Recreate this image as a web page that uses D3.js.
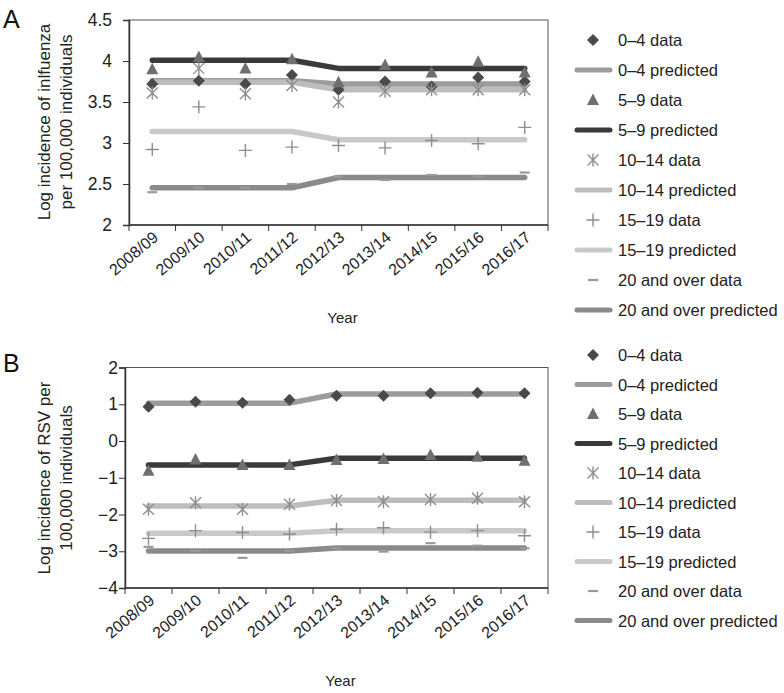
<!DOCTYPE html>
<html><head><meta charset="utf-8">
<script src="https://cdn.jsdelivr.net/npm/d3@7"></script>
<style>body{margin:0;background:#fff}svg{display:block;font-family:"Liberation Sans",Arial,sans-serif}</style>
</head><body><svg id="c" width="784" height="693"></svg>
<script>
const years = ["2008/09","2009/10","2010/11","2011/12","2012/13","2013/14","2014/15","2015/16","2016/17"];
const seriesNames = ["0–4","5–9","10–14","15–19","20 and over"];

// Panel A: influenza
const fluData04 = [3.72,3.76,3.72,3.83,3.65,3.75,3.69,3.80,3.75];
const fluData59 = [3.90,4.05,3.91,4.02,3.74,3.95,3.86,3.99,3.86];
const fluData1014 = [3.61,3.91,3.60,3.70,3.50,3.63,3.65,3.65,3.65];
const fluData1519 = [2.92,3.44,2.91,2.95,2.97,2.94,3.03,2.99,3.19];
const fluData20 = [2.40,2.455,2.455,2.50,2.59,2.55,2.61,2.59,2.64];
const fluPred04 = [3.76,3.76,3.76,3.76,3.72,3.72,3.72,3.72,3.72];
const fluPred59 = [4.01,4.01,4.01,4.01,3.91,3.91,3.91,3.91,3.91];
const fluPred1014 = [3.74,3.74,3.74,3.74,3.65,3.65,3.65,3.65,3.65];
const fluPred1519 = [3.14,3.14,3.14,3.14,3.04,3.04,3.04,3.04,3.04];
const fluPred20 = [2.455,2.455,2.455,2.455,2.58,2.58,2.58,2.58,2.58];
const fluTicks = [2,2.5,3,3.5,4,4.5];

// Panel B: RSV
const rsvData04 = [0.93,1.07,1.04,1.12,1.23,1.23,1.30,1.31,1.30];
const rsvData59 = [-0.81,-0.50,-0.65,-0.65,-0.52,-0.49,-0.38,-0.43,-0.54];
const rsvData1014 = [-1.86,-1.68,-1.86,-1.72,-1.62,-1.65,-1.59,-1.56,-1.65];
const rsvData1519 = [-2.65,-2.44,-2.49,-2.53,-2.40,-2.36,-2.48,-2.44,-2.58];
const rsvData20 = [-2.88,-2.99,-3.18,-2.99,-2.92,-3.01,-2.78,-2.85,-2.92];
const rsvPred04 = [1.03,1.03,1.03,1.03,1.28,1.28,1.28,1.28,1.28];
const rsvPred59 = [-0.65,-0.65,-0.65,-0.65,-0.47,-0.47,-0.47,-0.47,-0.47];
const rsvPred1014 = [-1.77,-1.77,-1.77,-1.77,-1.61,-1.61,-1.61,-1.61,-1.61];
const rsvPred1519 = [-2.51,-2.51,-2.51,-2.51,-2.44,-2.44,-2.44,-2.44,-2.44];
const rsvPred20 = [-2.99,-2.99,-2.99,-2.99,-2.91,-2.91,-2.91,-2.91,-2.91];
const rsvTicks = [-4,-3,-2,-1,0,1,2];

const markerTypes = ["diamond","triangle","star","plus","dash"];
const markerColors = ["#4a4a4a","#6f6f6f","#8e8e8e","#8e8e8e","#9a9a9a"];
const lineColors = ["#9c9c9c","#3a3a3a","#bdbdbd","#c9c9c9","#8a8a8a"];

const svg = d3.select("#c");

function drawMarker(g, type, cx, cy, color){
  if(type==="diamond"){
    g.append("path").attr("d",`M${cx},${cy-6}L${cx+6},${cy}L${cx},${cy+6}L${cx-6},${cy}Z`).attr("fill",color);
  } else if(type==="triangle"){
    g.append("path").attr("d",`M${cx},${cy-6.5}L${cx+6},${cy+5}L${cx-6},${cy+5}Z`).attr("fill",color);
  } else if(type==="star"){
    g.append("path").attr("d",`M${cx-5.5},${cy-5.5}L${cx+5.5},${cy+5.5}M${cx-5.5},${cy+5.5}L${cx+5.5},${cy-5.5}M${cx},${cy-6.5}L${cx},${cy+6.5}`)
      .attr("stroke",color).attr("stroke-width",1.4).attr("fill","none");
  } else if(type==="plus"){
    g.append("path").attr("d",`M${cx-6.5},${cy}L${cx+6.5},${cy}M${cx},${cy-6.5}L${cx},${cy+6.5}`)
      .attr("stroke",color).attr("stroke-width",1.4).attr("fill","none");
  } else if(type==="dash"){
    g.append("path").attr("d",`M${cx-5},${cy}L${cx+5},${cy}`).attr("stroke",color).attr("stroke-width",2.2);
  }
}

function panel(opt){
  const {left,right,top,bottom,domain,ticks,fmt,data,pred,letter,letterY,titleLines,titleY,labelRight,legendTop,legendStep} = opt;
  const g = svg.append("g");
  const x = d3.scaleBand().domain(years).range([left,right]).padding(0);
  const y = d3.scaleLinear().domain(domain).range([bottom,top]);

  // frame
  g.append("rect").attr("x",left).attr("y",top).attr("width",right-left).attr("height",bottom-top)
    .attr("fill","none").attr("stroke","#555").attr("stroke-width",1);

  // y axis
  const ya = g.append("g").attr("transform",`translate(${left},0)`)
    .call(d3.axisLeft(y).tickValues(ticks).tickFormat(fmt).tickSize(6).tickPadding(left-labelRight-6));
  ya.select(".domain").attr("stroke","#333").attr("stroke-width",1.5);
  ya.selectAll(".tick line").attr("stroke","#333");
  ya.selectAll("text").attr("font-size",17.5).attr("fill","#222").attr("font-family","Liberation Sans, Arial, sans-serif");

  // x axis: ticks at band boundaries
  const bounds = years.map(d=>x(d)).concat([x.range()[1]]);
  const xa = g.append("g").attr("transform",`translate(0,${bottom})`);
  xa.append("line").attr("x1",left).attr("x2",right).attr("stroke","#333").attr("stroke-width",1.5);
  xa.selectAll("line.tk").data(bounds).join("line").attr("class","tk")
    .attr("x1",d=>d).attr("x2",d=>d).attr("y1",0).attr("y2",6).attr("stroke","#333");
  xa.selectAll("text").data(years).join("text")
    .attr("transform",d=>`translate(${x(d)+x.bandwidth()/2+7},${14}) rotate(-40)`)
    .attr("text-anchor","end").attr("font-size",16).attr("fill","#222").text(d=>d);

  g.append("text").attr("x",(left+right)/2+4).attr("y",bottom+98).attr("text-anchor","middle")
    .attr("font-size",15).attr("fill","#222").text("Year");

  // y title
  titleLines.forEach((t,i)=>{
    g.append("text").attr("transform",`translate(${50+i*22},${titleY}) rotate(-90)`)
      .attr("text-anchor","middle").attr("font-size",17).attr("fill","#222").text(t);
  });
  g.append("text").attr("x",3).attr("y",letterY).attr("font-size",25).attr("fill","#111").text(letter);

  const cx = d=>x(d)+x.bandwidth()/2;
  const line = d3.line().x((d,i)=>cx(years[i])).y(d=>y(d));
  const lg = g.append("g"), mg = g.append("g");
  pred.forEach((arr,k)=>{
    lg.append("path").datum(arr).attr("d",line).attr("fill","none").attr("stroke",lineColors[k])
      .attr("stroke-width",5.5).attr("stroke-linejoin","round").attr("stroke-linecap","round");
  });
  data.forEach((arr,k)=>{
    arr.forEach((v,i)=>drawMarker(mg,markerTypes[k],cx(years[i]),y(v),markerColors[k]));
  });

  // legend
  const leg = g.append("g");
  let idx = 0;
  seriesNames.forEach((n,k)=>{
    const yy = legendTop + legendStep*idx++;
    drawMarker(leg,markerTypes[k],593,yy,markerColors[k]);
    leg.append("text").attr("x",618).attr("y",yy+6).attr("font-size",16.5).attr("fill","#222").text(n+" data");
    const yy2 = legendTop + legendStep*idx++;
    leg.append("line").attr("x1",577).attr("x2",610).attr("y1",yy2).attr("y2",yy2)
      .attr("stroke",lineColors[k]).attr("stroke-width",5).attr("stroke-linecap","round");
    leg.append("text").attr("x",618).attr("y",yy2+6).attr("font-size",16.5).attr("fill","#222").text(n+" predicted");
  });
}

panel({left:129,right:548,top:20,bottom:225,domain:[2,4.5],ticks:fluTicks,fmt:d3.format("~g"),
  data:[fluData04,fluData59,fluData1014,fluData1519,fluData20],
  pred:[fluPred04,fluPred59,fluPred1014,fluPred1519,fluPred20],
  letter:"A",letterY:28,titleLines:["Log incidence of inlfuenza","per 100,000 individuals"],titleY:122,
  labelRight:112,legendTop:40,legendStep:30});

panel({left:125,right:548,top:367.5,bottom:588,domain:[-4,2],ticks:rsvTicks,fmt:d=>d<0?"−"+Math.abs(d):String(d),
  data:[rsvData04,rsvData59,rsvData1014,rsvData1519,rsvData20],
  pred:[rsvPred04,rsvPred59,rsvPred1014,rsvPred1519,rsvPred20],
  letter:"B",letterY:372,titleLines:["Log incidence of RSV per","100,000 individuals"],titleY:478,
  labelRight:118,legendTop:355,legendStep:29.5});
</script></body></html>
